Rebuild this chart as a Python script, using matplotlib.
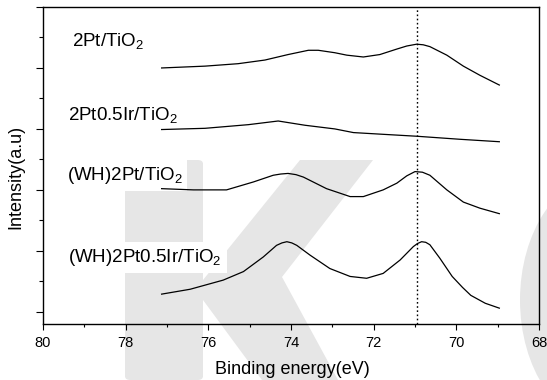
import matplotlib
matplotlib.use('Agg')
import matplotlib.pyplot as plt
from matplotlib.patches import Polygon, Ellipse, FancyBboxPatch
from matplotlib.ticker import MultipleLocator

# Pt 4f XPS spectra, binding energy (eV) vs stacked intensity (a.u.)
energy_pt = [77.13, 76.08, 75.28, 74.63, 74.07, 73.58, 73.34, 72.94, 72.65, 72.25,
             71.85, 71.44, 71.20, 70.96, 70.80, 70.64, 70.23, 69.83, 69.43, 68.96]
inten_pt = [4.00, 4.03, 4.07, 4.13, 4.22, 4.29, 4.29, 4.25, 4.21, 4.18,
            4.22, 4.31, 4.36, 4.39, 4.38, 4.35, 4.21, 4.03, 3.88, 3.72]

energy_ptir = [77.13, 76.08, 75.03, 74.31, 73.66, 73.30, 72.94, 72.49, 71.73, 70.96,
               69.91, 68.96]
inten_ptir = [2.99, 3.01, 3.07, 3.13, 3.06, 3.03, 3.00, 2.94, 2.91, 2.88,
              2.83, 2.79]

energy_wh_pt = [77.13, 76.36, 75.56, 74.91, 74.43, 74.25, 74.07, 73.88, 73.70, 73.14,
                72.57, 72.25, 71.77, 71.44, 71.20, 71.00, 70.82, 70.64, 70.23, 69.83,
                69.43, 68.96]
inten_wh_pt = [2.02, 2.00, 2.00, 2.13, 2.24, 2.26, 2.27, 2.25, 2.21, 2.02,
               1.89, 1.89, 2.00, 2.11, 2.23, 2.30, 2.29, 2.24, 2.00, 1.80,
               1.70, 1.61]

energy_wh_ptir = [77.13, 76.44, 75.64, 75.15, 74.67, 74.35, 74.22, 74.10, 73.98, 73.86,
                  73.54, 73.06, 72.57, 72.17, 71.77, 71.36, 71.04, 70.94, 70.84, 70.74,
                  70.64, 70.40, 70.10, 69.85, 69.65, 69.30, 68.96]
inten_wh_ptir = [0.29, 0.37, 0.52, 0.66, 0.90, 1.09, 1.13, 1.15, 1.13, 1.09,
                 0.93, 0.71, 0.58, 0.55, 0.63, 0.85, 1.07, 1.12, 1.15, 1.14,
                 1.10, 0.88, 0.58, 0.40, 0.27, 0.14, 0.06]

labels = ['2Pt/TiO$_2$', '2Pt0.5Ir/TiO$_2$', '(WH)2Pt/TiO$_2$', '(WH)2Pt0.5Ir/TiO$_2$']
label_x = [79.31, 79.39, 79.43, 79.39]
label_y = [4.35, 3.13, 2.16, 0.82]
ref_line = 70.95

plt.rcParams['font.family'] = ['Liberation Sans', 'DejaVu Sans']
plt.rcParams['mathtext.fontset'] = 'custom'
plt.rcParams['mathtext.rm'] = 'Liberation Sans'

W, H = 547, 380
fig = plt.figure(figsize=(W / 100, H / 100), dpi=100)

def px(x, y):
    return (x / W, 1 - y / H)

# faint background watermark, kept behind the axes
wm = '#e6e6e6'
fig.patches.append(FancyBboxPatch(px(125, 380), 78 / W, 220 / H,
                                  boxstyle='round,pad=0,rounding_size=0.01',
                                  transform=fig.transFigure, fc=wm, ec='none', zorder=-5))
arm = [(203, 280), (300, 160), (373, 160), (282, 277), (338, 380), (262, 380), (203, 300)]
fig.patches.append(Polygon([px(*p) for p in arm], closed=True, transform=fig.transFigure,
                           fc=wm, ec='none', zorder=-5))
fig.patches.append(Ellipse(px(605, 300), 170 / W, 250 / H, transform=fig.transFigure,
                           fc=wm, ec='none', zorder=-5))

ax = fig.add_axes([43 / W, 1 - 324 / H, (539 - 43) / W, (324 - 7) / H])
ax.set_zorder(2)
ax.patch.set_alpha(0)

for e, i in [(energy_pt, inten_pt), (energy_ptir, inten_ptir),
             (energy_wh_pt, inten_wh_pt), (energy_wh_ptir, inten_wh_ptir)]:
    ax.plot(e, i, color='black', lw=0.9, zorder=5)

ax.axvline(ref_line, color='black', lw=1.0, ls=(0, (1.2, 1.8)), zorder=5)

for t, x, y in zip(labels, label_x, label_y):
    ax.text(x, y, t, fontsize=13.5, ha='left', va='baseline', zorder=3,
            bbox=dict(boxstyle='square,pad=0.25', fc='white', ec='none'))

ax.set_xlim(80, 68)
ax.set_ylim(-0.2, 5.0)
ax.xaxis.set_major_locator(MultipleLocator(2))
ax.xaxis.set_minor_locator(MultipleLocator(1))
ax.yaxis.set_major_locator(MultipleLocator(1))
ax.yaxis.set_minor_locator(MultipleLocator(0.5))
ax.set_yticklabels([])
ax.tick_params(axis='x', which='major', direction='out', length=4.3, width=0.8,
               labelsize=10.5, pad=4)
ax.tick_params(axis='x', which='minor', direction='out', length=2.2, width=0.8)
ax.tick_params(axis='y', which='major', direction='out', length=5, width=0.8)
ax.tick_params(axis='y', which='minor', direction='out', length=2.9, width=0.8)
for s in ax.spines.values():
    s.set_linewidth(1.0)

fig.text(292 / W, 1 - 369 / H, 'Binding energy(eV)', fontsize=13, ha='center', va='center',
         zorder=3)
fig.text(15.5 / W, 1 - 176.5 / H, 'Intensity(a.u)', fontsize=13, rotation=90,
         ha='center', va='center', zorder=3)

fig.savefig('out.png', dpi=100, facecolor='white')
